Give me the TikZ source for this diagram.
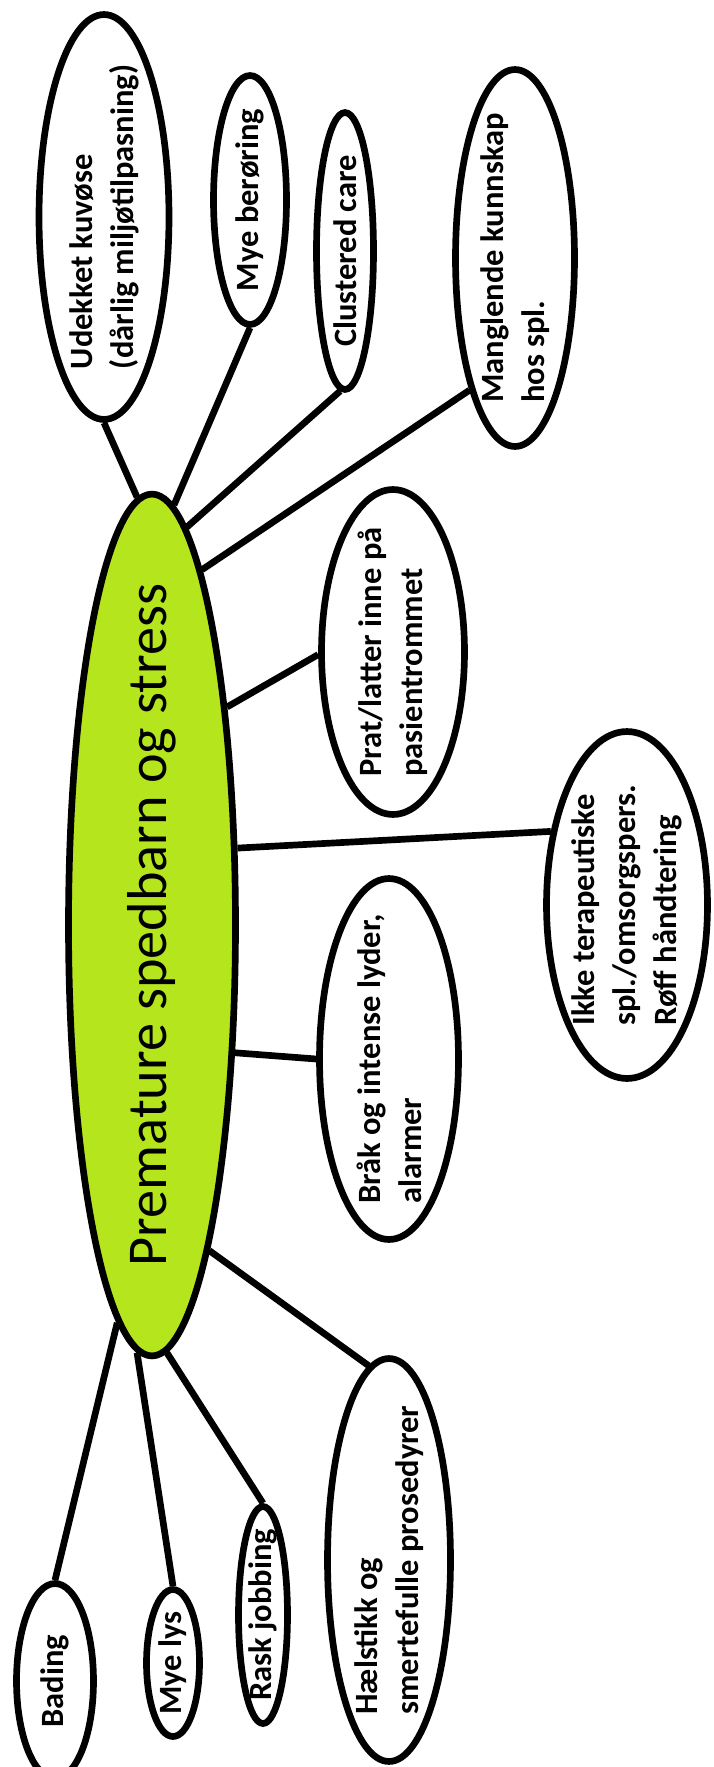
\documentclass[tikz,border=0pt]{standalone}
\usepackage{fontspec}
\setmainfont{Carlito}
\usepackage{xcolor}
\usetikzlibrary{shapes.geometric}
\definecolor{limegreen}{HTML}{B5E61D}

\begin{document}
\begin{tikzpicture}[
    x=0.02cm, y=-0.02cm,
    bubble/.style={ellipse, draw, rotate=90, line width=3.8pt, inner sep=-1cm},
    hub/.style={bubble, fill=limegreen, font=\fontsize{32}{38}\selectfont},
    cause/.style={bubble, fill=white, align=left, font=\bfseries\fontsize{18.5}{23.5}\selectfont},
    link/.style={line width=3.8pt},
]
    \clip (0,0) rectangle (713,1767);
    \fill[white] (0,0) rectangle (713,1767);

    % centre
    \node[hub, minimum width=17.24cm, minimum height=3.34cm] (centre) at (152,925) {Premature spedbarn og stress};

    % causes, top
    \node[cause, minimum width=8.1cm, minimum height=2.6cm] (udekket) at (104,217) {Udekket kuvøse\\(dårlig miljøtilpasning)};
    \node[cause, minimum width=4.98cm, minimum height=1.46cm] (beroring) at (250,200) {Mye berøring};
    \node[cause, minimum width=5.54cm, minimum height=1.14cm] (clustered) at (345,251) {Clustered care};
    \node[cause, minimum width=7.54cm, minimum height=2.38cm] (manglende) at (515,258) {Manglende kunnskap\\hos spl.};

    % causes, right
    \node[cause, minimum width=6.5cm, minimum height=2.86cm] (prat) at (393,652) {Prat/latter inne på\\pasientrommet};
    \node[cause, minimum width=6.94cm, minimum height=3.22cm] (ikke) at (627,905) {Ikke terapeutiske\\spl./omsorgspers.\\Røff håndtering};
    \node[cause, minimum width=7.22cm, minimum height=2.78cm] (brak) at (389,1059) {Bråk og intense lyder,\\alarmer};

    % causes, bottom
    \node[cause, minimum width=8.06cm, minimum height=2.46cm] (haelstikk) at (389,1560) {Hælstikk og\\smertefulle prosedyrer};
    \node[cause, minimum width=4.34cm, minimum height=0.98cm] (rask) at (263,1615) {Rask jobbing};
    \node[cause, minimum width=2.94cm, minimum height=1.06cm] (lys) at (173,1663) {Mye lys};
    \node[cause, minimum width=3.9cm, minimum height=1.54cm] (bading) at (55,1681) {Bading};

    % links
    \draw[link] (udekket.180) -- (centre.2.7);
    \draw[link] (beroring.180) -- (centre.-3.4);
    \draw[link] (clustered.178) -- (centre.-5.7);
    \draw[link] (manglende.161) -- (centre.-8.7);
    \draw[link] (prat.92) -- (centre.-19);
    \draw[link] (ikke.46) -- (centre.-48);
    \draw[link] (brak.90) -- (centre.-147.4);
    \draw[link] (haelstikk.6) -- (centre.-170.6);
    \draw[link] (rask.0) -- (centre.-178.4);
    \draw[link] (lys.0) -- (centre.178.5);
    \draw[link] (bading.0) -- (centre.175);
\end{tikzpicture}
\end{document}
